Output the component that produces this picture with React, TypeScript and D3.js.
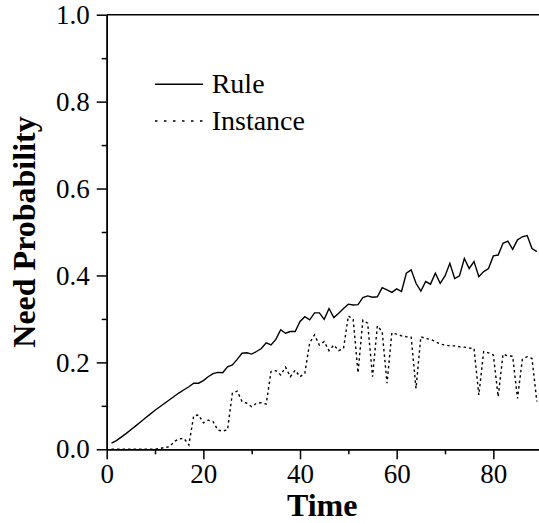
import React, { useEffect, useRef } from 'react';
import * as d3 from 'd3';

// time steps 1..89
const times = d3.range(1, 90);

const ruleValues = [
  0.014, 0.02, 0.028, 0.036, 0.045, 0.054, 0.063, 0.072, 0.081, 0.09,
  0.098, 0.106, 0.114, 0.122, 0.13, 0.137, 0.144, 0.152, 0.152, 0.158,
  0.167, 0.174, 0.177, 0.176, 0.19, 0.194, 0.207, 0.221, 0.222, 0.219,
  0.225, 0.232, 0.245, 0.24, 0.253, 0.275, 0.267, 0.271, 0.271, 0.294,
  0.305, 0.298, 0.314, 0.314, 0.299, 0.324, 0.303, 0.313, 0.324, 0.334,
  0.332, 0.333, 0.349, 0.353, 0.35, 0.351, 0.372, 0.367, 0.361, 0.369,
  0.363, 0.405, 0.413, 0.382, 0.364, 0.386, 0.38, 0.405, 0.382, 0.399,
  0.428, 0.393, 0.399, 0.439, 0.416, 0.432, 0.397, 0.409, 0.416, 0.445,
  0.447, 0.474, 0.479, 0.46, 0.482, 0.489, 0.492, 0.462, 0.455,
];

const instanceValues = [
  0, 0, 0, 0, 0, 0, 0, 0, 0, 0,
  0.002, 0.004, 0.006, 0.018, 0.024, 0.025, 0.01, 0.077, 0.079, 0.061,
  0.067, 0.064, 0.044, 0.042, 0.045, 0.129, 0.134, 0.11, 0.106, 0.098,
  0.106, 0.107, 0.104, 0.179, 0.181, 0.171, 0.189, 0.167, 0.182, 0.167,
  0.175, 0.245, 0.263, 0.24, 0.248, 0.227, 0.24, 0.227, 0.232, 0.307,
  0.299, 0.176, 0.297, 0.29, 0.167, 0.284, 0.271, 0.152, 0.268, 0.265,
  0.261, 0.259, 0.258, 0.14, 0.259, 0.255, 0.253, 0.248, 0.242, 0.24,
  0.238, 0.238, 0.236, 0.235, 0.233, 0.232, 0.125, 0.225, 0.222, 0.217,
  0.121, 0.219, 0.215, 0.214, 0.117, 0.207, 0.213, 0.209, 0.11,
];

const xTicks = [0, 20, 40, 60, 80];
const xMinorTicks = [10, 30, 50, 70, 90];
const yTicks = [0, 0.2, 0.4, 0.6, 0.8, 1.0];
const yMinorTicks = [0.1, 0.3, 0.5, 0.7, 0.9];
const seriesNames = ['Rule', 'Instance'];

const FONT = '"Liberation Serif", "Times New Roman", serif';

function NeedChart() {
  const ref = useRef<SVGSVGElement>(null);

  useEffect(() => {
    const width = 539, height = 523;
    const margin = { top: 14.7, left: 106.7, bottom: 73.7 };
    const svg = d3.select(ref.current);
    svg.selectAll('*').remove();

    const x = d3.scaleLinear().domain([0, 90]).range([margin.left, margin.left + 90 * 4.833]);
    const y = d3.scaleLinear().domain([0, 1]).range([height - margin.bottom, margin.top]);

    // x axis
    const gx = svg.append('g')
      .attr('transform', 'translate(0,' + y(0) + ')')
      .call(d3.axisBottom(x).tickValues(xTicks).tickFormat(d3.format('d')).tickSize(10).tickSizeOuter(0).tickPadding(5));
    svg.append('g')
      .attr('transform', 'translate(0,' + y(0) + ')')
      .call(d3.axisBottom(x).tickValues(xMinorTicks).tickFormat(() => '').tickSize(5).tickSizeOuter(0));

    // y axis
    const gy = svg.append('g')
      .attr('transform', 'translate(' + x(0) + ',0)')
      .call(d3.axisLeft(y).tickValues(yTicks).tickFormat(d3.format('.1f')).tickSize(10).tickSizeOuter(0).tickPadding(7));
    svg.append('g')
      .attr('transform', 'translate(' + x(0) + ',0)')
      .call(d3.axisLeft(y).tickValues(yMinorTicks).tickFormat(() => '').tickSize(5).tickSizeOuter(0));

    svg.selectAll('.domain, .tick line').attr('stroke', '#000').attr('stroke-width', 1.5);
    [gx, gy].forEach(g => g.selectAll('text')
      .attr('fill', '#000')
      .style('font-family', FONT)
      .style('font-size', '27px'));

    // top frame line
    svg.append('line')
      .attr('x1', x(0)).attr('x2', x(90))
      .attr('y1', y(1)).attr('y2', y(1))
      .attr('stroke', '#000').attr('stroke-width', 1.5);

    const line = d3.line<number>()
      .x((d, i) => x(times[i]))
      .y(d => y(d));

    svg.append('path')
      .datum(ruleValues)
      .attr('d', line)
      .attr('fill', 'none')
      .attr('stroke', '#000')
      .attr('stroke-width', 1.4);

    svg.append('path')
      .datum(instanceValues)
      .attr('d', line)
      .attr('fill', 'none')
      .attr('stroke', '#000')
      .attr('stroke-width', 1.4)
      .attr('stroke-dasharray', '2.5,3');

    // legend
    const legend = svg.append('g');
    seriesNames.forEach((name, i) => {
      const ly = 84.3 + i * 36.7;
      legend.append('line')
        .attr('x1', 155).attr('x2', 203)
        .attr('y1', ly).attr('y2', ly)
        .attr('stroke', '#000')
        .attr('stroke-width', 1.5)
        .attr('stroke-dasharray', i === 0 ? null : '2.5,6.5');
      legend.append('text')
        .attr('x', 211.7)
        .attr('y', ly + 9)
        .style('font-family', FONT)
        .style('font-size', '28px')
        .text(name);
    });

    // axis titles
    svg.append('text')
      .attr('x', (x(0) + x(90)) / 2 - 2)
      .attr('y', 516)
      .attr('text-anchor', 'middle')
      .style('font-family', FONT)
      .style('font-size', '32px')
      .style('font-weight', 'bold')
      .text('Time');

    svg.append('text')
      .attr('transform', 'translate(35,' + (y(0) + y(1)) / 2 + ') rotate(-90)')
      .attr('text-anchor', 'middle')
      .style('font-family', FONT)
      .style('font-size', '32px')
      .style('font-weight', 'bold')
      .text('Need Probability');
  }, []);

  return (
    <svg ref={ref} width={539} height={523}
      style={{ position: 'absolute', left: 0, top: 0, background: '#fff' }} />
  );
}

export default function App() {
  return <NeedChart />;
}
